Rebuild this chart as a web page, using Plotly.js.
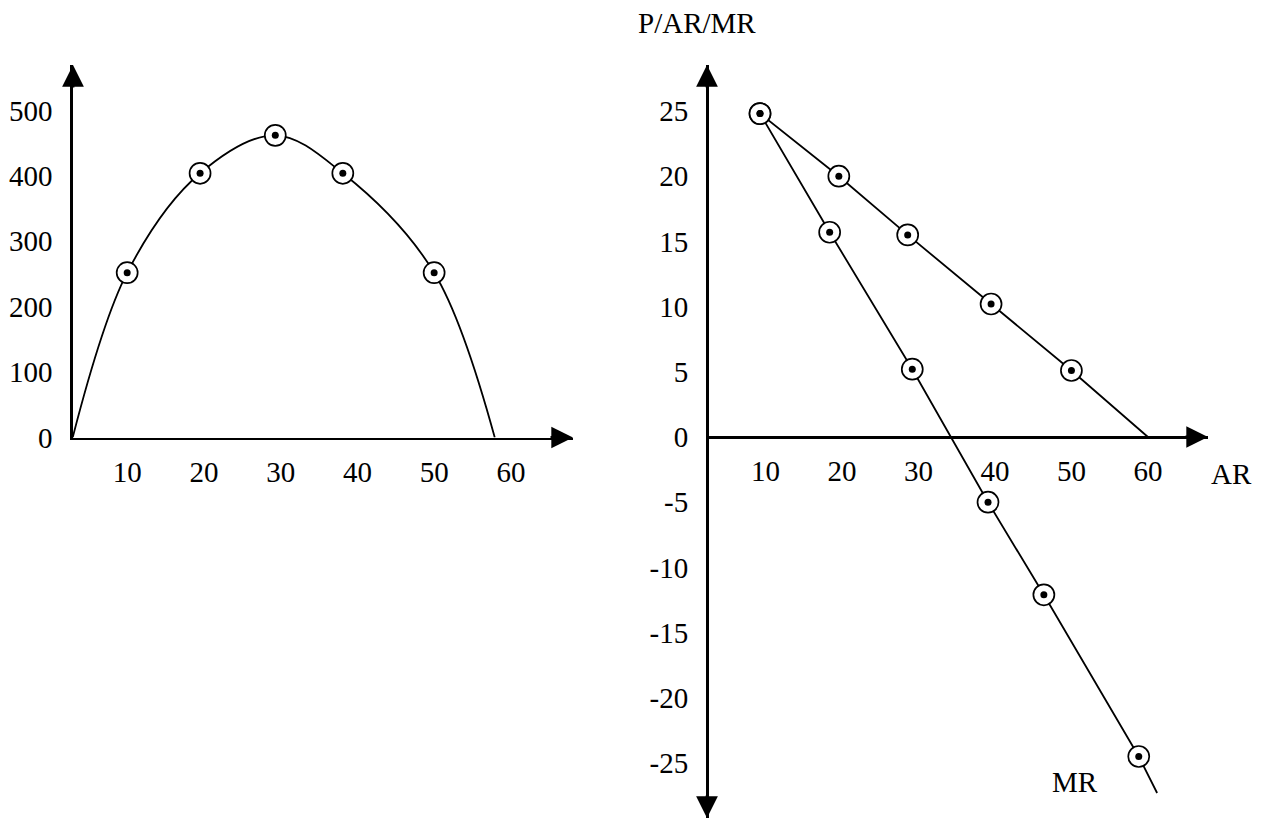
<!DOCTYPE html>
<html>
<head>
<meta charset="utf-8">
<script src="https://cdn.plot.ly/plotly-3.0.1.min.js"></script>
<style>
html,body{margin:0;padding:0;background:#ffffff;}
#chart{width:1264px;height:820px;}
</style>
</head>
<body>
<div id="chart"></div>
<script>
// ---- Left panel: total revenue curve (first and last entries are the axis crossings) ----
const trX = [2.9, 10, 19.5, 29.3, 38.1, 50, 57.9];
const trY = [0, 252, 404, 462, 404, 252, 0];
const leftTickX = [10, 20, 30, 40, 50, 60];
const leftTickY = [0, 100, 200, 300, 400, 500];

// ---- Right panel: AR and MR (last entry of each is the unmarked line end) ----
const arX = [9.3, 19.6, 28.6, 39.5, 50.0, 60.0];
const arY = [24.8, 20.0, 15.5, 10.2, 5.1, 0];
const mrX = [9.3, 18.4, 29.2, 39.1, 46.4, 58.8, 61.2];
const mrY = [24.8, 15.7, 5.2, -5.0, -12.1, -24.5, -27.3];
const rightTickX = [10, 20, 30, 40, 50, 60];
const rightTickY = [25, 20, 15, 10, 5, 0, -5, -10, -15, -20, -25];

const W = 1264, H = 820;
const FONT = {family: 'Liberation Serif, Times New Roman, serif', size: 29, color: '#000'};
const px = v => v / W;
const py = v => 1 - v / H;

function lineTrace(x, y, xa, ya, spline) {
  return {x: x, y: y, xaxis: xa, yaxis: ya, mode: 'lines', type: 'scatter', hoverinfo: 'skip',
          line: {color: '#000', width: 1.8, shape: spline ? 'spline' : 'linear', smoothing: 1}};
}
function ringTrace(x, y, xa, ya) {
  return {x: x, y: y, xaxis: xa, yaxis: ya, mode: 'markers', type: 'scatter', hoverinfo: 'skip',
          marker: {symbol: 'circle', size: 21, color: '#fff', line: {color: '#000', width: 1.7}}};
}
function dotTrace(x, y, xa, ya) {
  return {x: x, y: y, xaxis: xa, yaxis: ya, mode: 'markers', type: 'scatter', hoverinfo: 'skip',
          marker: {symbol: 'circle', size: 7, color: '#000', line: {width: 0}}};
}

const data = [
  lineTrace(trX, trY, 'x', 'y', true),
  ringTrace(trX.slice(1, -1), trY.slice(1, -1), 'x', 'y'),
  dotTrace(trX.slice(1, -1), trY.slice(1, -1), 'x', 'y'),
  lineTrace(arX, arY, 'x2', 'y2', false),
  lineTrace(mrX, mrY, 'x2', 'y2', false),
  ringTrace(arX.slice(0, -1), arY.slice(0, -1), 'x2', 'y2'),
  ringTrace(mrX.slice(0, -1), mrY.slice(0, -1), 'x2', 'y2'),
  dotTrace(arX.slice(0, -1), arY.slice(0, -1), 'x2', 'y2'),
  dotTrace(mrX.slice(0, -1), mrY.slice(0, -1), 'x2', 'y2')
];

const axisBase = {
  showline: true, linecolor: '#000', linewidth: 2.8, showgrid: false, zeroline: false,
  ticks: '', tickfont: FONT, fixedrange: true
};

function arrow(xref, x, yref, y, ax, ay) {
  return {xref: xref, x: x, yref: yref, y: y, ax: ax, ay: ay, text: '', showarrow: true,
          arrowhead: 2, arrowsize: 1.55, arrowwidth: 2.8, arrowcolor: '#000', standoff: 0};
}
function label(text, x, y) {
  return {xref: 'paper', yref: 'paper', x: px(x), y: py(y), text: text, showarrow: false,
          font: FONT, xanchor: 'center', yanchor: 'middle'};
}

const layout = {
  width: W, height: H,
  margin: {l: 0, r: 0, t: 0, b: 0, pad: 0},
  paper_bgcolor: '#fff', plot_bgcolor: 'rgba(0,0,0,0)',
  showlegend: false,
  xaxis: Object.assign({}, axisBase, {
    domain: [px(73), px(573)], range: [2.94, 2.94 + 500 / 7.674], anchor: 'y',
    tickvals: leftTickX, ticktext: leftTickX.map(String), ticklabelstandoff: 7
  }),
  yaxis: Object.assign({}, axisBase, {
    domain: [py(437.5), py(65)], range: [0, (437.5 - 65) / 0.654], anchor: 'x',
    tickvals: leftTickY, ticktext: leftTickY.map(String), ticklabelstandoff: 12
  }),
  xaxis2: Object.assign({}, axisBase, {
    domain: [px(707), px(1208)], range: [2.37, 2.37 + 501 / 7.651], anchor: 'free', position: py(437),
    tickvals: rightTickX, ticktext: rightTickX.map(String), ticklabelstandoff: 7
  }),
  yaxis2: Object.assign({}, axisBase, {
    domain: [py(818), py(65)], range: [-(818 - 437) / 13.04, (437 - 65) / 13.04], anchor: 'free', position: px(707),
    tickvals: rightTickY, ticktext: rightTickY.map(String), ticklabelstandoff: 12
  }),
  annotations: [
    arrow('x domain', 1, 'y', 0, -24, 0),
    arrow('x domain', 0, 'y domain', 1, 0, 24),
    arrow('x2 domain', 1, 'y2', 0, -24, 0),
    arrow('x2 domain', 0, 'y2 domain', 1, 0, 24),
    arrow('x2 domain', 0, 'y2 domain', 0, 0, -24),
    label('P/AR/MR', 697, 23),
    label('AR', 1231, 474),
    label('MR', 1075, 782)
  ]
};

Plotly.newPlot('chart', data, layout, {displayModeBar: false, staticPlot: true});
</script>
</body>
</html>
